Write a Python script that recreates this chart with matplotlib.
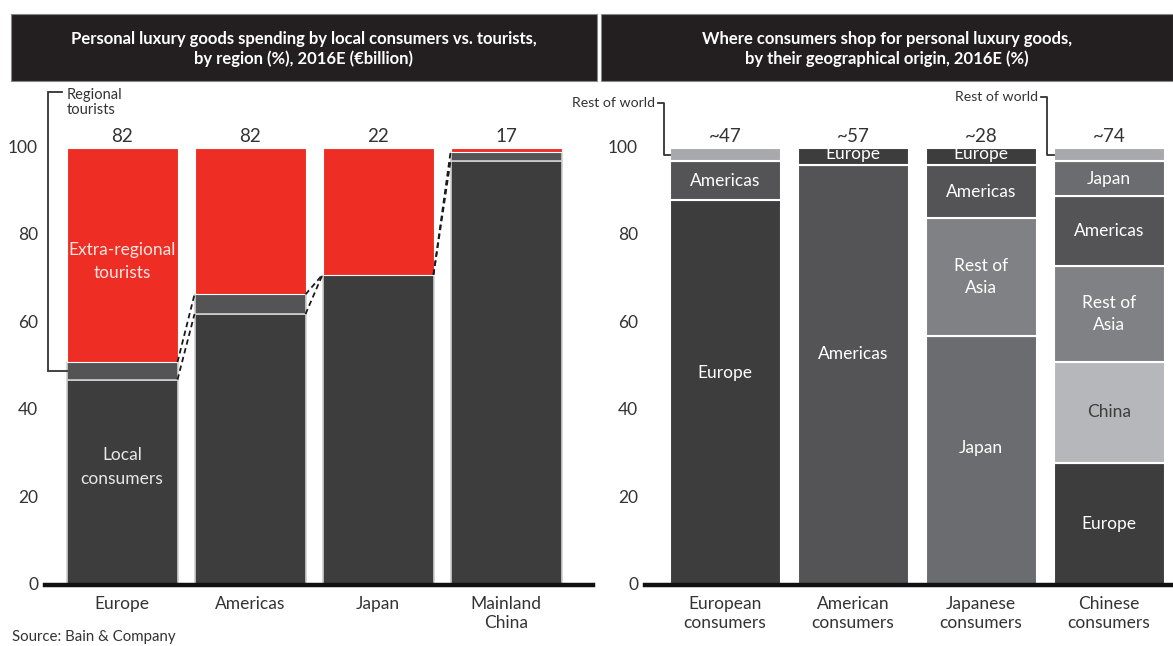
import matplotlib
matplotlib.use("Agg")
import matplotlib.pyplot as plt
from matplotlib.patches import Rectangle

plt.rcParams['font.family'] = ['Lato', 'DejaVu Sans']

# ---------------- data ----------------
regions = ["Europe", "Americas", "Japan", "Mainland\nChina"]
local_consumers = [47, 62, 71, 97]
regional_tourists = [4, 4.5, 0, 2]
extra_regional_tourists = [49, 33.5, 29, 1]
region_totals = ["82", "82", "22", "17"]

consumer_groups = ["European\nconsumers", "American\nconsumers",
                   "Japanese\nconsumers", "Chinese\nconsumers"]
consumer_totals = ["~47", "~57", "~28", "~74"]
shop_europe = [88, 4, 4, 28]
shop_americas = [9, 96, 12, 16]
shop_japan = [0, 0, 57, 8]
shop_rest_of_asia = [0, 0, 27, 22]
shop_china = [0, 0, 0, 23]
shop_rest_of_world = [3, 0, 0, 3]
stack_order = [
    ["Europe", "Americas", "Rest of world"],
    ["Americas", "Europe"],
    ["Japan", "Rest of Asia", "Americas", "Europe"],
    ["Europe", "China", "Rest of Asia", "Americas", "Japan", "Rest of world"],
]
yticks = [0, 20, 40, 60, 80, 100]

# ---------------- style ----------------
C_LOCAL = "#3d3d3d"
C_REGIONAL = "#545456"
C_RED = "#ee2d24"
seg_colors = {
    "Europe": "#3d3d3d",
    "Americas": "#545456",
    "Japan": "#6b6c70",
    "Rest of Asia": "#808184",
    "China": "#b6b7ba",
    "Rest of world": "#a8a9ac",
}
seg_labels = {
    "Europe": "Europe", "Americas": "Americas", "Japan": "Japan",
    "Rest of Asia": "Rest of\nAsia", "China": "China", "Rest of world": None,
}
shares = {
    "Europe": shop_europe, "Americas": shop_americas, "Japan": shop_japan,
    "Rest of Asia": shop_rest_of_asia, "China": shop_china,
    "Rest of world": shop_rest_of_world,
}
TXT = "#333333"
W, H = 1173, 646
fig = plt.figure(figsize=(W / 100, H / 100), dpi=100)

YTOP = (585 - 85) / 4.37
BAR_W = 111 / 128
FS_IN = 12.5


def setup(ax, labels):
    ax.set_ylim(0, YTOP)
    ax.set_yticks(yticks)
    ax.set_yticklabels([str(t) for t in yticks], fontsize=12.5, color=TXT)
    ax.tick_params(axis='y', length=0, pad=5)
    ax.tick_params(axis='x', length=0, pad=8)
    ax.set_xticks(range(len(labels)))
    ax.set_xticklabels(labels, fontsize=12.5, color=TXT, linespacing=1.2)
    for s in ["top", "right", "left"]:
        ax.spines[s].set_visible(False)
    ax.spines["bottom"].set_linewidth(3.2)
    ax.spines["bottom"].set_color("#111111")
    ax.spines["bottom"].set_zorder(5)
    for lab in ax.get_yticklabels():
        lab.set_verticalalignment('center')


# ---------------- left chart ----------------
axL = fig.add_axes([45 / W, (H - 585) / H, (593 - 45) / W, 500 / H])
x = list(range(len(regions)))
axL.bar(x, local_consumers, width=BAR_W, color=C_LOCAL, edgecolor="#d0d0d0", linewidth=1.2)
axL.bar(x, regional_tourists, width=BAR_W, bottom=local_consumers, color=C_REGIONAL,
        edgecolor="#d0d0d0", linewidth=1.2)
bottoms2 = [a + b for a, b in zip(local_consumers, regional_tourists)]
axL.bar(x, extra_regional_tourists, width=BAR_W, bottom=bottoms2, color=C_RED,
        edgecolor="white", linewidth=0.8)
axL.set_xlim((45 - 122) / 128, 3 + (593 - 506) / 128)
setup(axL, regions)
for i, t in enumerate(region_totals):
    axL.text(i, 102.7, t, ha='center', va='center', fontsize=13.5, color=TXT)

# dashed connectors
for i in range(len(regions) - 1):
    x0 = i + BAR_W / 2
    x1 = i + 1 - BAR_W / 2
    axL.plot([x0, x1], [local_consumers[i], local_consumers[i + 1]],
             ls=(0, (3, 2)), color="#1a1a1a", lw=1.3)
    axL.plot([x0, x1], [bottoms2[i], bottoms2[i + 1]],
             ls=(0, (3, 2)), color="#1a1a1a", lw=1.3)

axL.text(0, bottoms2[0] + extra_regional_tourists[0] * 0.47,
         "Extra-regional\ntourists", ha='center', va='center', fontsize=FS_IN,
         color="#ffe5e0", linespacing=1.55)
axL.text(0, local_consumers[0] * 0.575, "Local\nconsumers", ha='center', va='center',
         fontsize=FS_IN, color="#e8e8e8", linespacing=1.6)

# regional tourists bracket
yb = local_consumers[0] + regional_tourists[0] / 2
xb = (48 - 122) / 128
axL.plot([-BAR_W / 2, xb, xb, xb + 0.11], [yb, yb, 112.8, 112.8],
         color="#333333", lw=1.3, clip_on=False, solid_joinstyle='miter')
axL.text((67 - 122) / 128, 110.4, "Regional\ntourists", ha='left', va='center',
         fontsize=10.5, color=TXT, linespacing=1.15, clip_on=False)

# ---------------- right chart ----------------
axR = fig.add_axes([645 / W, (H - 585) / H, (1173 - 645) / W, 500 / H])
for i, order in enumerate(stack_order):
    bottom = 0
    for name in order:
        v = shares[name][i]
        axR.bar(i, v, width=BAR_W, bottom=bottom, color=seg_colors[name],
                edgecolor="white", linewidth=1.5)
        lab = seg_labels[name]
        if lab is not None:
            tc = "#3d3d3d" if name == "China" else "white"
            if v < 6:
                ymid = bottom + v / 2 + 0.6
            elif v > 50:
                ymid = bottom + v * 0.55
            else:
                ymid = bottom + v / 2
            axR.text(i, ymid, lab, ha='center', va='center', fontsize=FS_IN,
                     color=tc, linespacing=1.5)
        bottom += v
axR.set_xlim((645 - 725) / 128, 3 + (1173 - 1109) / 128)
setup(axR, consumer_groups)
for i, t in enumerate(consumer_totals):
    axR.text(i, 102.7, t, ha='center', va='center', fontsize=13.5, color=TXT)

# Rest of world annotations
y1 = shop_europe[0] + shop_americas[0] + shop_rest_of_world[0] / 2
xa = (664 - 725) / 128
axR.plot([-BAR_W / 2, xa, xa, xa - 0.05], [y1, y1, 110.3, 110.3],
         color="#333333", lw=1.3, clip_on=False)
axR.text(xa - 0.07, 110.3, "Rest of world", ha='right', va='center', fontsize=10.2,
         color=TXT, clip_on=False)
y2 = 100 - shop_rest_of_world[3] / 2
xa2 = 2 + (1047 - 981) / 128
axR.plot([3 - BAR_W / 2, xa2, xa2, xa2 - 0.05], [y2, y2, 111.7, 111.7],
         color="#333333", lw=1.3, clip_on=False)
axR.text(xa2 - 0.07, 111.7, "Rest of world", ha='right', va='center', fontsize=10.2,
         color=TXT, clip_on=False)

# ---------------- title boxes ----------------
for (x0, x1, lines) in [
    (11, 597, "Personal luxury goods spending by local consumers vs. tourists,\nby region (%), 2016E (\u20acbillion)"),
    (601, 1173, "Where consumers shop for personal luxury goods,\nby their geographical origin, 2016E (%)"),
]:
    fig.patches.append(Rectangle((x0 / W, (H - 81) / H), (x1 - x0) / W, 67 / H,
                                 transform=fig.transFigure, facecolor="#231f20",
                                 edgecolor="#888888", linewidth=0.8, zorder=0))
    fig.text((x0 + x1) / 2 / W, (H - 49) / H, lines, ha='center', va='center',
             color="white", fontsize=12, fontweight='bold', linespacing=1.3)

fig.text(12 / W, (H - 637) / H, "Source: Bain & Company", ha='left', va='center',
         fontsize=10.8, color=TXT)

fig.savefig("out.png", dpi=100)
